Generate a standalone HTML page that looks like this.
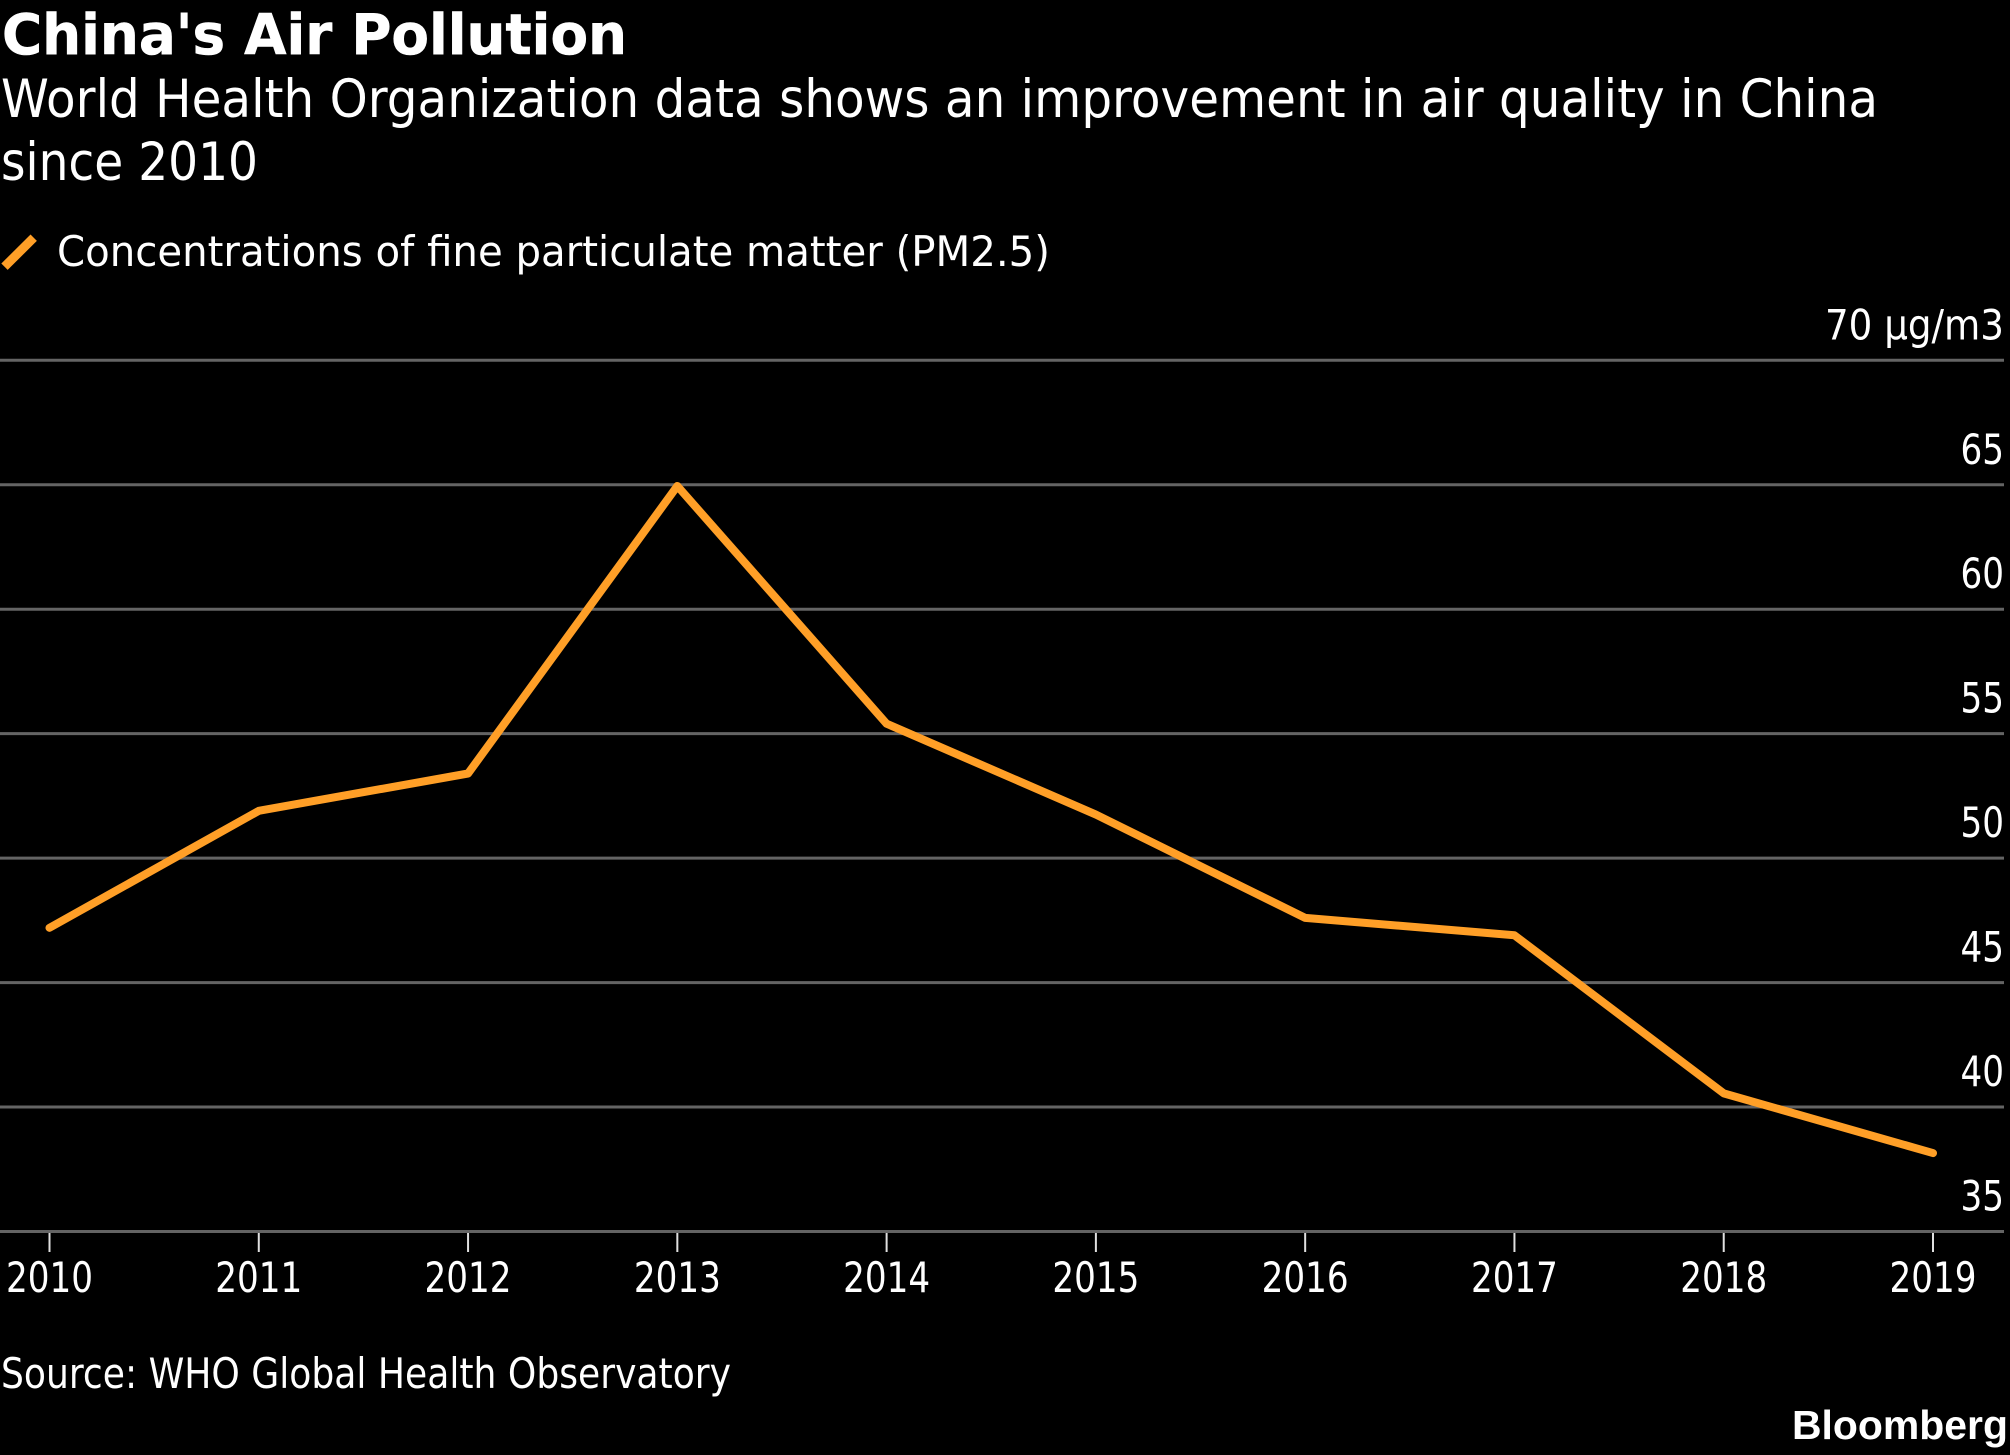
<!DOCTYPE html>
<html lang="en">
<head>
<meta charset="utf-8">
<title>China's Air Pollution</title>
<style>
  html, body { margin: 0; padding: 0; background: #000; }
  svg { display: block; }
  text { font-family: "DejaVu Sans", "Liberation Sans", sans-serif; fill: #fff; }
</style>
</head>
<body>
<svg id="chart" xmlns="http://www.w3.org/2000/svg" width="2010" height="1455" viewBox="0 0 2010 1455">
  <rect x="0" y="0" width="2010" height="1455" fill="#000"/>
  <text x="2" y="54" font-size="56" font-weight="700" textLength="625" lengthAdjust="spacingAndGlyphs" stroke="#fff" stroke-width="0.6">China's Air Pollution</text>
  <text x="1" y="117" font-size="53" textLength="1877" lengthAdjust="spacingAndGlyphs">World Health Organization data shows an improvement in air quality in China</text>
  <text x="1" y="180" font-size="53" textLength="257" lengthAdjust="spacingAndGlyphs">since 2010</text>
  <line x1="4.5" y1="266.7" x2="33.7" y2="237.7" stroke="#ff9f27" stroke-width="9"/>
  <text x="57" y="266" font-size="42" textLength="993" lengthAdjust="spacingAndGlyphs">Concentrations of fine particulate matter (PM2.5)</text>
  <g id="grid"></g>
  <g id="y-labels"></g>
  <g id="x-axis"></g>
  <path id="series" fill="none" stroke="#ff9f27" stroke-width="8" stroke-linecap="round" stroke-linejoin="round"/>
  <text x="1" y="1388" font-size="42" textLength="730" lengthAdjust="spacingAndGlyphs">Source: WHO Global Health Observatory</text>
  <text x="1792" y="1439" font-size="41" font-weight="700" textLength="216" lengthAdjust="spacingAndGlyphs" style="font-family:'Liberation Sans',sans-serif">Bloomberg</text>
</svg>
<script>
const years = [2010, 2011, 2012, 2013, 2014, 2015, 2016, 2017, 2018, 2019];
const pm25 = [47.2, 51.9, 53.4, 64.95, 55.4, 51.75, 47.6, 46.9, 40.55, 38.15];
const yTicks = [70, 65, 60, 55, 50, 45, 40, 35];
const yTickLabels = ['70 µg/m3', '65', '60', '55', '50', '45', '40', '35'];

const NS = 'http://www.w3.org/2000/svg';
function xScale(year) {
  return 49.5 + (year - 2010) * (1933 - 49.5) / 9;
}
function yScale(v) {
  return 360.3 + (70 - v) * (1231.5 - 360.3) / 35;
}
function make(tag, parent) {
  const el = document.createElementNS(NS, tag);
  parent.appendChild(el);
  return el;
}

const grid = document.getElementById('grid');
const yLabels = document.getElementById('y-labels');
yTicks.forEach(function (t, i) {
  const line = make('line', grid);
  
  
  line.setAttribute('x1', 0);
  line.setAttribute('x2', 2004);
  line.setAttribute('y1', yScale(t));
  line.setAttribute('y2', yScale(t));
  line.setAttribute('stroke', '#646464');
  line.setAttribute('stroke-width', 3);

  const label = make('text', yLabels);
  
  
  label.setAttribute('x', 2004);
  label.setAttribute('y', yScale(t) - 21);
  label.setAttribute('font-size', 42);
  label.setAttribute('text-anchor', 'end');
  label.textContent = yTickLabels[i];
  label.setAttribute('textLength', yTickLabels[i].length > 2 ? 179 : 43.5);
  label.setAttribute('lengthAdjust', 'spacingAndGlyphs');
});

const xAxis = document.getElementById('x-axis');
years.forEach(function (y) {
  const tick = make('line', xAxis);
  
  
  tick.setAttribute('x1', xScale(y));
  tick.setAttribute('x2', xScale(y));
  tick.setAttribute('y1', 1233);
  tick.setAttribute('y2', 1252);
  tick.setAttribute('stroke', '#e0e0e0');
  tick.setAttribute('stroke-width', 2);

  const label = make('text', xAxis);
  
  
  label.setAttribute('x', xScale(y));
  label.setAttribute('y', 1292);
  label.setAttribute('font-size', 42);
  label.setAttribute('text-anchor', 'middle');
  label.textContent = y;
  label.setAttribute('textLength', 87);
  label.setAttribute('lengthAdjust', 'spacingAndGlyphs');
});

document.getElementById('series').setAttribute('d', pm25.map(function (v, i) {
  return (i ? 'L' : 'M') + xScale(years[i]).toFixed(2) + ' ' + yScale(v).toFixed(2);
}).join(' '));
</script>
</body>
</html>
